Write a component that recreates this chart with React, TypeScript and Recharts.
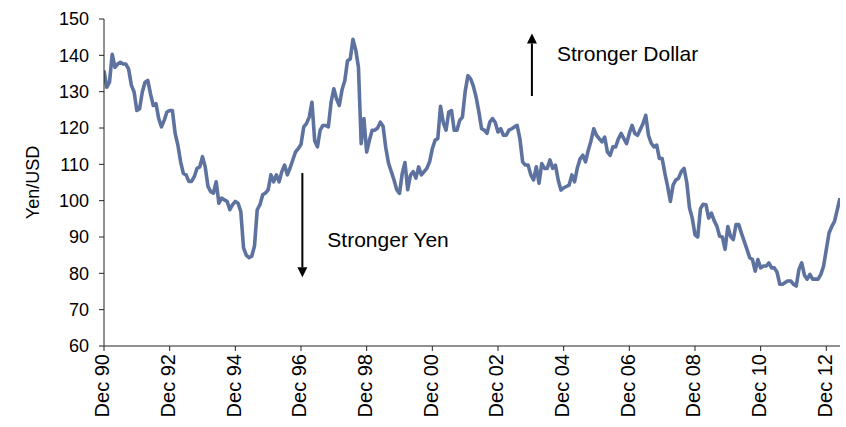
import React from 'react';
import { LineChart, Line, XAxis, YAxis, ReferenceLine } from 'recharts';

// Monthly Yen/USD, Dec 1990 .. May 2013 (index 0 = Dec 90)
const usdJpy: number[] = [
  135.8, 131.2, 132.6, 140.3, 136.7, 137.6, 138.1, 137.6, 137.6, 136.2,
  131.8, 129.9, 124.8, 125.3, 129.9, 132.6, 133.1, 129.4, 126.2, 126.7,
  122.6, 120.3, 122.1, 124.4, 124.8, 124.8, 118.5, 115.3, 110.7, 107.5,
  107.1, 105.3, 105.3, 106.6, 108.9, 109.3, 112.1, 109.3, 103.9, 102.5,
  102.1, 105.2, 99.3, 100.7, 100.2, 99.8, 97.5, 98.9, 99.8, 99.3,
  97.0, 87.0, 85.0, 84.3, 84.7, 87.5, 97.5, 98.9, 101.6, 102.1,
  103.0, 107.1, 105.2, 107.1, 105.2, 108.0, 109.8, 107.1, 109.0, 111.2,
  113.4, 114.3, 115.5, 120.3, 121.2, 123.0, 127.1, 116.5, 114.8, 119.4,
  120.7, 120.7, 120.3, 127.1, 130.8, 128.0, 126.2, 130.5, 133.0, 138.5,
  139.0, 144.4, 141.5, 136.7, 115.7, 122.6, 113.4, 116.6, 119.4, 119.4,
  120.0, 121.6, 120.5, 114.5, 110.3, 108.0, 105.7, 103.0, 102.0, 107.5,
  110.5, 103.0, 107.0, 108.0, 106.2, 109.3, 107.1, 108.0, 108.9, 110.7,
  114.3, 116.6, 117.1, 126.0, 121.5, 119.4, 124.4, 124.8, 119.4, 119.4,
  122.1, 123.0, 130.0, 134.4, 133.5, 131.5, 128.5, 124.5, 119.8, 119.4,
  118.5, 121.6, 122.6, 121.5, 118.9, 119.8, 118.0, 118.0, 119.4, 119.8,
  120.3, 120.7, 117.1, 110.7, 109.8, 109.8, 107.1, 105.7, 109.3, 104.8,
  110.2, 108.9, 108.9, 111.2, 108.9, 109.8, 105.7, 102.9, 103.5, 103.9,
  104.3, 107.1, 105.2, 109.0, 111.5, 112.5, 110.7, 113.9, 116.5, 119.8,
  118.0, 117.1, 116.2, 117.5, 113.4, 112.5, 114.8, 114.8, 117.0, 118.5,
  117.1, 115.7, 118.5, 120.7, 118.5, 118.0, 119.6, 121.2, 123.5, 118.0,
  115.8, 114.8, 115.3, 111.6, 111.6, 107.5, 103.9, 99.8, 104.3, 105.7,
  106.2, 108.0, 108.9, 105.0, 98.0, 95.2, 90.6, 90.0, 97.8, 99.0,
  98.9, 95.2, 96.6, 94.5, 93.0, 90.2, 90.0, 86.6, 92.9, 90.2,
  89.3, 93.4, 93.4, 91.0, 88.8, 86.6, 84.3, 83.8, 80.6, 83.8,
  81.5, 82.0, 82.0, 82.9, 81.5, 81.5, 80.3, 77.0, 77.0, 77.5,
  77.9, 77.9, 77.0, 76.5, 81.1, 82.9, 79.5, 78.4, 79.7, 78.4,
  78.4, 78.4, 79.7, 82.0, 86.6, 91.1, 92.9, 94.3, 97.5, 100.7,
];

const yTicks = [60, 70, 80, 90, 100, 110, 120, 130, 140, 150];
const xTickMonths = [0, 24, 48, 72, 96, 120, 144, 168, 192, 216, 240, 264];
const xTickLabels = ['Dec 90', 'Dec 92', 'Dec 94', 'Dec 96', 'Dec 98', 'Dec 00', 'Dec 02', 'Dec 04', 'Dec 06', 'Dec 08', 'Dec 10', 'Dec 12'];
const yAxisTitle = 'Yen/USD';
const dollarNote = 'Stronger Dollar';
const yenNote = 'Stronger Yen';
// annotation arrows, in data coordinates (month index, yen)
const dollarArrow = [{ x: 156.4, y: 128.8 }, { x: 156.4, y: 146.0 }];
const yenArrow = [{ x: 72.5, y: 107.6 }, { x: 72.5, y: 78.9 }];

const data = usdJpy.map((v, i) => ({ i, v }));

const FONT = "'Liberation Sans', Arial, Helvetica, sans-serif";
const LINE_COLOR = '#5E72A0';

const XTick = (props: any) => {
  const { x, y, payload } = props;
  const idx = xTickMonths.indexOf(payload.value);
  const label = idx >= 0 ? xTickLabels[idx] : '';
  return (
    <text
      x={x}
      y={y}
      transform={`rotate(-90, ${x}, ${y})`}
      textAnchor="end"
      dy="0.27em"
      fontSize={20}
      fontFamily={FONT}
      fill="#000"
    >
      {label}
    </text>
  );
};

const makeArrow = (text: string, tdx: number, tdy: number) => (props: any) => {
  const { x1, y1, x2, y2 } = props;
  if ([x1, y1, x2, y2].some((n) => typeof n !== 'number' || isNaN(n))) return <g />;
  const dir = y2 < y1 ? -1 : 1;
  const head = 10;
  const half = 5;
  const baseY = y2 - dir * head;
  const topY = Math.min(y1, y2);
  return (
    <g>
      <line x1={x1} y1={y1} x2={x2} y2={baseY} stroke="#000" strokeWidth={2} />
      <polygon points={`${x2},${y2} ${x2 - half},${baseY} ${x2 + half},${baseY}`} fill="#000" />
      <text x={x1 + tdx} y={topY + tdy} fontSize={21} fontFamily={FONT} fill="#000">
        {text}
      </text>
    </g>
  );
};

const YTitle = (p: any) => {
  const vb = p && p.viewBox ? p.viewBox : { x: 0, y: 19, width: 104, height: 327 };
  const cx = vb.x + 33;
  const cy = vb.y + vb.height / 2;
  return (
    <text
      x={cx}
      y={cy}
      transform={`rotate(-90, ${cx}, ${cy})`}
      textAnchor="middle"
      dy="0.35em"
      fontSize={18}
      fontFamily={FONT}
      fill="#000"
    >
      {yAxisTitle}
    </text>
  );
};

export default function App() {
  return (
    <div style={{ position: 'absolute', left: 0, top: 0, width: 846, height: 427, background: '#fff' }}>
      <LineChart width={846} height={427} data={data} margin={{ top: 19, right: 6, left: 0, bottom: 0 }}>
        <XAxis
          type="number"
          dataKey="i"
          domain={[0, usdJpy.length - 1]}
          ticks={xTickMonths}
          interval={0}
          tickSize={5}
          tickMargin={3}
          height={81}
          tick={<XTick />}
          axisLine={{ stroke: '#222' }}
          tickLine={{ stroke: '#222' }}
          allowDataOverflow
        />
        <YAxis
          type="number"
          domain={[60, 150]}
          ticks={yTicks}
          interval={0}
          width={104}
          tickSize={5}
          tickMargin={10}
          tick={{ fontSize: 18, fill: '#000', fontFamily: FONT }}
          axisLine={{ stroke: '#222' }}
          tickLine={{ stroke: '#222' }}
          label={{ content: YTitle } as any}
          allowDataOverflow
        />
        <Line
          type="linear"
          dataKey="v"
          stroke={LINE_COLOR}
          strokeWidth={3.6}
          dot={false}
          activeDot={false}
          strokeLinejoin="round"
          isAnimationActive={false}
        />
        <ReferenceLine segment={dollarArrow} ifOverflow="visible" shape={makeArrow(dollarNote, 25, 27)} />
        <ReferenceLine segment={yenArrow} ifOverflow="visible" shape={makeArrow(yenNote, 25, 74)} />
      </LineChart>
    </div>
  );
}
